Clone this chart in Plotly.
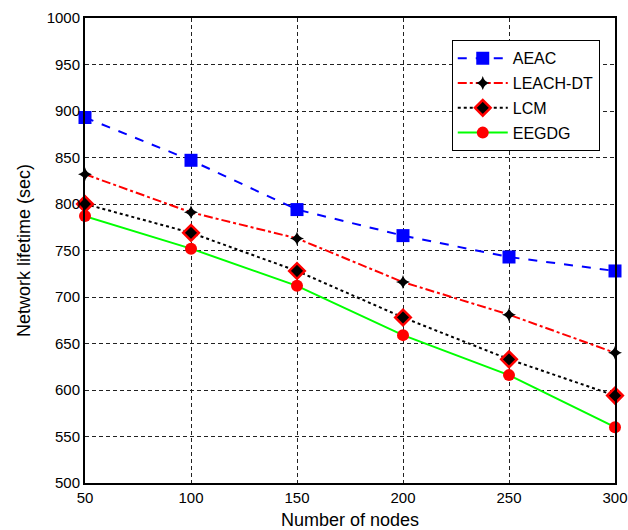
import plotly.graph_objects as go

nodes = [50, 100, 150, 200, 250, 300]
aeac = [893, 847, 794, 766, 743, 728]
leach_dt = [832, 791, 763, 716, 681, 640]
lcm = [800, 769, 728, 678, 633, 594]
eegdg = [787, 752, 712, 659, 616, 560]

x_ticks = [50, 100, 150, 200, 250, 300]
y_ticks = [500, 550, 600, 650, 700, 750, 800, 850, 900, 950, 1000]

FONT = "Liberation Sans, Arial"

fig = go.Figure()
fig.add_trace(go.Scatter(
    x=nodes, y=aeac, name="AEAC", mode="lines+markers", legendgroup="a",
    line=dict(color="#0000ff", dash="dash", width=2),
    marker=dict(symbol="square", size=13, color="#0000ff"),
    cliponaxis=False))
fig.add_trace(go.Scatter(
    x=nodes, y=leach_dt, name="LEACH-DT", mode="lines+markers", legendgroup="b",
    line=dict(color="#ff0000", dash="dashdot", width=2),
    marker=dict(symbol="star-diamond", size=10, color="black"),
    cliponaxis=False))
fig.add_trace(go.Scatter(
    x=nodes, y=lcm, name="LCM", mode="lines+markers", legendgroup="c",
    line=dict(color="black", dash="dot", width=2),
    marker=dict(symbol="diamond", size=12, color="black",
                line=dict(color="#ff0000", width=2.5)),
    cliponaxis=False))
fig.add_trace(go.Scatter(
    x=nodes, y=eegdg, name="EEGDG", mode="lines+markers", legendgroup="d",
    line=dict(color="#00ff00", width=2),
    marker=dict(symbol="circle", size=12, color="#ff0000"),
    cliponaxis=False))

axis_common = dict(
    showline=True, linecolor="black", linewidth=2, mirror=True,
    showgrid=True, gridcolor="#222222", gridwidth=1, griddash="4px,3px",
    zeroline=False, ticks="", automargin=False,
    tickfont=dict(family=FONT, size=15, color="black"),
)

fig.update_xaxes(range=[50, 300], tickvals=x_ticks,
                 title=dict(text="Number of nodes", standoff=10,
                            font=dict(family=FONT, size=18, color="black")),
                 **axis_common)
fig.update_yaxes(range=[500, 1000], tickvals=y_ticks,
                 title=dict(text="Network lifetime (sec)", standoff=11,
                            font=dict(family=FONT, size=18, color="black")),
                 **axis_common)

fig.update_layout(
    width=628, height=530,
    margin=dict(l=85, r=13, t=18, b=47),
    paper_bgcolor="white", plot_bgcolor="white",
    showlegend=True,
    legend=dict(x=0.692, y=0.952, xanchor="left", yanchor="top",
                bgcolor="white", bordercolor="black", borderwidth=1,
                font=dict(family=FONT, size=16, color="black"),
                itemwidth=50, tracegroupgap=1),
)

fig.write_html("out.html")
